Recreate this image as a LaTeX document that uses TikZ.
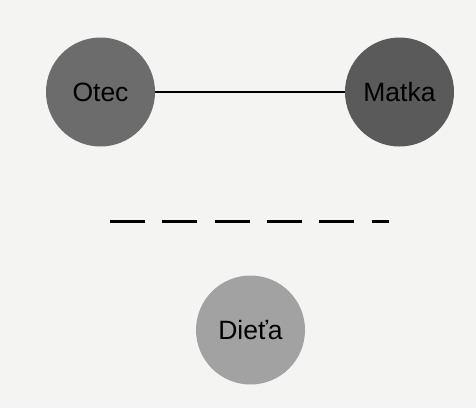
\documentclass[tikz,border=0pt]{standalone}
\usepackage{fontspec}
\setmainfont{Liberation Sans}
\definecolor{paper}{HTML}{F4F4F2}
\definecolor{fathergray}{HTML}{6C6C6C}
\definecolor{mothergray}{HTML}{5A5A5A}
\definecolor{childgray}{HTML}{A2A2A2}
\begin{document}
\begin{tikzpicture}[x=1pt,y=-1pt,
  person/.style={circle, minimum size=109pt, inner sep=0pt,
    font=\fontsize{26.5}{30}\selectfont, text=black},
  bond/.style={line width=1.5pt, black},
  rift/.style={line width=3.2pt, black, dash pattern=on 35pt off 17.3pt}]
  % page background
  \fill[paper] (0,0) rectangle (476,408);
  \useasboundingbox (0,0) rectangle (476,408);
  % parents and child
  \node[person, fill=fathergray] (otec) at (100.5,92) {Otec};
  \node[person, fill=mothergray] (matka) at (399.5,92) {Matka};
  \node[person, fill=childgray] (dieta) at (250.5,330) {Dieťa};
  % marriage line
  \draw[bond] (otec) -- (matka);
  % broken line between parents and child
  \coordinate (riftL) at (110,221.7);
  \coordinate (riftR) at (389,221.7);
  \draw[rift] (riftL) -- (riftR);
\end{tikzpicture}
\end{document}
